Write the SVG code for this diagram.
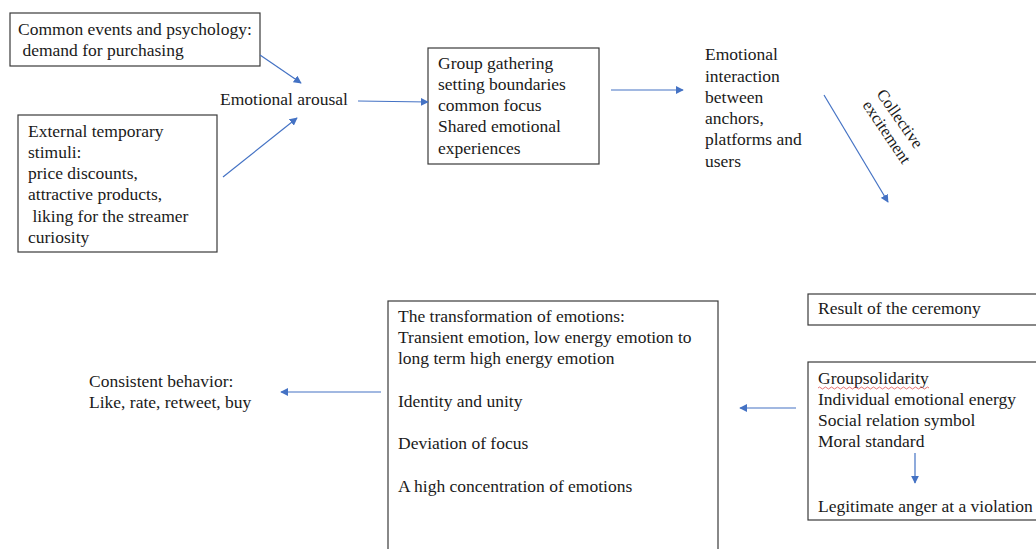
<svg xmlns="http://www.w3.org/2000/svg" width="1036" height="549" viewBox="0 0 1036 549">
<style>
text{font-family:"Liberation Serif","Times New Roman",serif;font-size:17.5px;fill:#1a1a1a}
.rot{font-size:16.5px}
.box{fill:#fff;stroke:#3a3a3a;stroke-width:1.2}
.arr{stroke:#4472c4;stroke-width:1.2;fill:none;marker-end:url(#ah)}
</style>
<defs>
<marker id="ah" viewBox="0 0 10 10" refX="9" refY="5" markerWidth="8" markerHeight="8" markerUnits="userSpaceOnUse" orient="auto">
<path d="M0,0 L10,5 L0,10 z" fill="#4472c4"/>
</marker>
</defs>
<rect width="1036" height="549" fill="#fff"/>
<g id="n-common">
<rect class="box" x="10" y="13" width="250" height="53"/>
<text x="18" y="35">Common events and psychology:</text>
<text x="18" y="56" xml:space="preserve"> demand for purchasing</text>
</g>
<g id="n-external">
<rect class="box" x="18" y="115" width="199" height="137"/>
<text x="28" y="137">External temporary</text>
<text x="28" y="158">stimuli:</text>
<text x="28" y="179">price discounts,</text>
<text x="28" y="200">attractive products,</text>
<text x="28" y="222" xml:space="preserve"> liking for the streamer</text>
<text x="28" y="243">curiosity</text>
</g>
<g id="n-arousal">
<text x="220" y="105">Emotional arousal</text>
</g>
<g id="n-group">
<rect class="box" x="428" y="48" width="171" height="116"/>
<text x="438" y="69">Group gathering</text>
<text x="438" y="90">setting boundaries</text>
<text x="438" y="111">common focus</text>
<text x="438" y="132">Shared emotional</text>
<text x="438" y="154">experiences</text>
</g>
<g id="n-interaction">
<text x="705" y="60">Emotional</text>
<text x="705" y="82">interaction</text>
<text x="705" y="103">between</text>
<text x="705" y="124">anchors,</text>
<text x="705" y="145">platforms and</text>
<text x="705" y="167">users</text>
</g>
<g id="n-collective">
<text class="rot" transform="translate(876,94) rotate(55)">Collective</text>
<text class="rot" transform="translate(862,105) rotate(56)">excitement</text>
</g>
<g id="n-result">
<rect class="box" x="808" y="294" width="240" height="31"/>
<text x="818" y="314">Result of the ceremony</text>
</g>
<g id="n-solidarity">
<rect class="box" x="808" y="362" width="240" height="158"/>
<text x="818" y="384">Groupsolidarity</text>
<path d="M818,388 q1.5,-2 3,0 t3,0 t3,0 t3,0 t3,0 t3,0 t3,0 t3,0 t3,0 t3,0 t3,0 t3,0 t3,0 t3,0 t3,0 t3,0 t3,0 t3,0 t3,0 t3,0 t3,0 t3,0 t3,0 t3,0 t3,0 t3,0 t3,0 t3,0 t3,0 t3,0 t3,0 t3,0 t3,0 t3,0 t3,0 t3,0 t3,0" fill="none" stroke="#e05050" stroke-width="0.8"/>
<text x="818" y="405">Individual emotional energy</text>
<text x="818" y="426">Social relation symbol</text>
<text x="818" y="447">Moral standard</text>
<text x="818" y="512">Legitimate anger at a violation</text>
</g>
<g id="n-transformation">
<rect class="box" x="388" y="301" width="330" height="260"/>
<text x="398" y="322">The transformation of emotions:</text>
<text x="398" y="343">Transient emotion, low energy emotion to</text>
<text x="398" y="364">long term high energy emotion</text>
<text x="398" y="407">Identity and unity</text>
<text x="398" y="449">Deviation of focus</text>
<text x="398" y="492">A high concentration of emotions</text>
</g>
<g id="n-behavior">
<text x="89" y="387">Consistent behavior:</text>
<text x="89" y="408">Like, rate, retweet, buy</text>
</g>
<g id="connectors">
<line class="arr" x1="260" y1="55" x2="301" y2="83"/>
<line class="arr" x1="223" y1="177" x2="297" y2="118"/>
<line class="arr" x1="358" y1="101" x2="428" y2="102"/>
<line class="arr" x1="611" y1="90" x2="683" y2="90"/>
<line class="arr" x1="824" y1="95" x2="888" y2="202"/>
<line class="arr" x1="796" y1="408" x2="740" y2="408"/>
<line class="arr" x1="915" y1="453" x2="915" y2="483"/>
<line class="arr" x1="381" y1="392" x2="281" y2="392"/>
</g>
</svg>
